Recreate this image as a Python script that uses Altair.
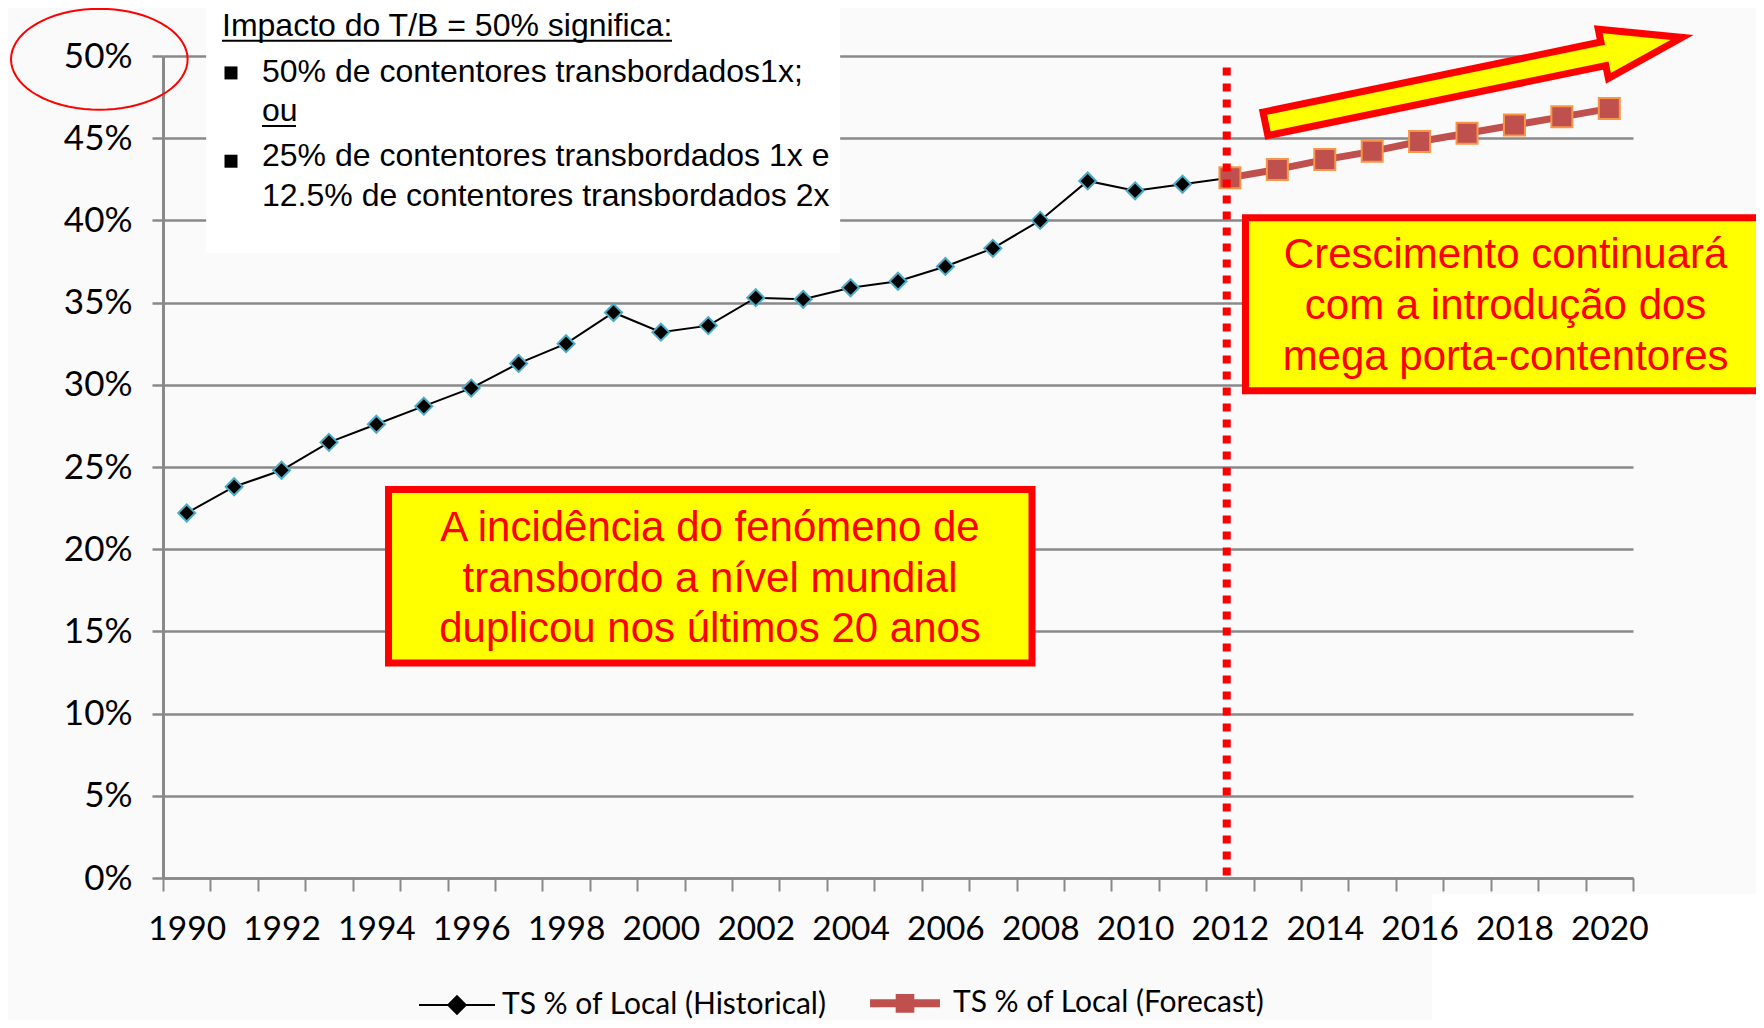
import altair as alt
import numpy as np
import pandas as pd

# ---------------- data ----------------
hist_years = list(range(1990, 2013))
hist_pct = [22.2, 23.8, 24.8, 26.5, 27.6, 28.7, 29.8, 31.3, 32.5, 34.4,
            33.2, 33.6, 35.3, 35.2, 35.9, 36.3, 37.2, 38.3, 40.0, 42.4,
            41.8, 42.2, 42.6]
fc_years = list(range(2012, 2021))
fc_pct = [42.6, 43.1, 43.7, 44.2, 44.8, 45.3, 45.8, 46.3, 46.8]
series_names = ["TS % of Local (Historical)", "TS % of Local (Forecast)"]
y_ticks = [0, 5, 10, 15, 20, 25, 30, 35, 40, 45, 50]
box_lines = ["Impacto do T/B = 50% significa:",
             "50% de contentores transbordados1x;",
             "ou",
             "25% de contentores transbordados 1x e",
             "12.5% de contentores transbordados 2x"]
note1_lines = ["A incidência do fenómeno de", "transbordo a nível mundial",
               "duplicou nos últimos 20 anos"]
note2_lines = ["Crescimento continuará", "com a introdução dos",
               "mega porta-contentores"]

# ---------------- styling ----------------
W, H = 1470, 822
BAND = W / 31.0
GRID = "#898989"
RED = "#FF0000"
YEL = "#FFFF00"
FC_COL = "#C0504D"
AX_FONT = "Lato"
TX_FONT = "Liberation Sans"

X_SCALE = alt.Scale(domain=[1989.5, 2020.5], nice=False, zero=False)
Y_SCALE = alt.Scale(domain=[0, 50], nice=False, zero=False)

X_AXIS = alt.Axis(
    values=[1989.5 + i for i in range(32)],
    labelExpr="(datum.value + 0.5) % 2 == 0 ? format(datum.value + 0.5, 'd') : ''",
    labelOffset=BAND / 2, labelFont=AX_FONT, labelFontSize=33.5, labelColor="#000000",
    labelPadding=22, labelAngle=0, tickSize=13, tickWidth=2, tickColor=GRID,
    domainColor=GRID, domainWidth=2.5, grid=False, title=None,
    labelOverlap=False, labelBound=False, labelFlush=False, zindex=1)
Y_AXIS = alt.Axis(
    values=y_ticks, labelExpr="datum.value + '%'", labelFont=AX_FONT,
    labelFontSize=35, labelColor="#000000", labelPadding=20, tickSize=11,
    tickWidth=2.5, tickColor=GRID, domainColor=GRID, domainWidth=3,
    grid=True, gridColor=GRID, gridWidth=2.5, title=None,
    labelOverlap=False, labelFlush=False, zindex=0)


def xq(f):
    return alt.X(f, type="quantitative", scale=X_SCALE, axis=X_AXIS)


def yq(f):
    return alt.Y(f, type="quantitative", scale=Y_SCALE, axis=Y_AXIS)


DIAMOND = "M 0 -1 L 1 0 L 0 1 L -1 0 Z"
ARROW = ("M -1 -0.0565 L 0.622 -0.0565 L 0.622 -0.118 L 1 0 "
         "L 0.622 0.118 L 0.622 0.0565 L -1 0.0565 Z")
_t = np.linspace(0, 2 * np.pi, 73)[:-1]
ELLIPSE = "M " + " L ".join(f"{np.cos(a):.4f} {0.572 * np.sin(a):.4f}" for a in _t) + " Z"
LEG_HIST = "M -1 0 L 1 0 M -0.23 0 L 0 -0.23 L 0.23 0 L 0 0.23 Z"
LEG_FC = "M -0.92 0 L 0.92 0 M -0.14 -0.14 L 0.14 -0.14 L 0.14 0.14 L -0.14 0.14 Z"

# ---------------- tables ----------------
hist_df = pd.DataFrame({"year": hist_years, "pct": hist_pct})
fc_df = pd.DataFrame({"year": fc_years, "pct": fc_pct})

white_df = pd.DataFrame({"x1": [1990.41, 2016.26], "x2": [2003.78, 2040.0],
                         "y1": [53.41, -0.97], "y2": [38.02, -10.0]})
yellow_df = pd.DataFrame({"x1": [1994.256, 2012.328], "x2": [2007.826, 2023.29],
                          "y1": [23.63, 40.16], "y2": [13.08, 29.64]})
note_df = pd.DataFrame({
    "x": [2001.036] * 3 + [2017.813] * 3,
    "y": [20.50, 17.40, 14.36, 37.09, 34.00, 30.90],
    "t": note1_lines + note2_lines})
box_df = pd.DataFrame({
    "x": [1990.744, 1991.588, 1991.588, 1991.588, 1991.588],
    "y": [51.22, 48.42, 46.06, 43.30, 40.87],
    "t": box_lines})
under_df = pd.DataFrame({"x1": [1990.744, 1991.588], "x2": [2000.234, 1992.305],
                         "y": [50.93, 45.74]})
bullet_df = pd.DataFrame({"x": [1990.934, 1990.934], "y": [48.97, 43.60]})
vline_df = pd.DataFrame({"x": [2011.932], "y1": [49.3], "y2": [0.0]})
arrow_df = pd.DataFrame({"x": [2017.142], "y": [48.50]})
ellipse_df = pd.DataFrame({"x": [1988.157], "y": [49.80]})
leg_df = pd.DataFrame({"series": series_names})

# ---------------- layers ----------------
white = alt.Chart(white_df).mark_rect(fill="#FFFFFF", strokeWidth=0).encode(
    x=xq("x1"), x2="x2", y=yq("y1"), y2="y2")

yellow = alt.Chart(yellow_df).mark_rect(fill=YEL, stroke=RED, strokeWidth=7).encode(
    x=xq("x1"), x2="x2", y=yq("y1"), y2="y2")

notes = alt.Chart(note_df).mark_text(
    font=TX_FONT, fontSize=42, color=RED, align="center", baseline="alphabetic").encode(
    x=xq("x"), y=yq("y"), text="t:N")

box_text = alt.Chart(box_df).mark_text(
    font=TX_FONT, fontSize=32, color="#000000", align="left", baseline="alphabetic").encode(
    x=xq("x"), y=yq("y"), text="t:N")

underline = alt.Chart(under_df).mark_rule(color="#000000", strokeWidth=2).encode(
    x=xq("x1"), x2="x2", y=yq("y"))

bullets = alt.Chart(bullet_df).mark_square(size=169, color="#000000", opacity=1).encode(
    x=xq("x"), y=yq("y"))

hist_line = alt.Chart(hist_df).mark_line(color="#000000", strokeWidth=2).encode(
    x=xq("year"), y=yq("pct"))
fc_line = alt.Chart(fc_df).mark_line(color=FC_COL, strokeWidth=7).encode(
    x=xq("year"), y=yq("pct"))
hist_pts = alt.Chart(hist_df).mark_point(
    shape=DIAMOND, size=289, filled=True, fill="#000000", stroke="#4BACC6",
    strokeWidth=2, opacity=1).encode(x=xq("year"), y=yq("pct"))
fc_pts = alt.Chart(fc_df).mark_point(
    shape="square", size=441, filled=True, fill=FC_COL, stroke="#F79646",
    strokeWidth=2, opacity=1).encode(x=xq("year"), y=yq("pct"))

vline = alt.Chart(vline_df).mark_rule(
    color=RED, strokeWidth=8, strokeDash=[8, 8], strokeCap="butt").encode(
    x=xq("x"), y=yq("y1"), y2="y2")

arrow = alt.Chart(arrow_df).mark_point(
    shape=ARROW, size=425.5 ** 2, angle=348.29, filled=True, fill=YEL,
    stroke=RED, strokeWidth=7, opacity=1).encode(x=xq("x"), y=yq("y"))

ellipse = alt.Chart(ellipse_df).mark_point(
    shape=ELLIPSE, size=176.6 ** 2, filled=False, stroke=RED, strokeWidth=2,
    opacity=1).encode(x=xq("x"), y=yq("y"))

LEG = alt.Legend(title=None, orient="none", legendX=255, legendY=905,
                 direction="horizontal", symbolSize=5776, labelFont=AX_FONT,
                 labelFontSize=30, labelColor="#000000", labelOffset=6,
                 columnPadding=27, padding=0, labelLimit=1000, symbolOpacity=1)
legend_layer = alt.Chart(leg_df).transform_filter("false").mark_point(
    filled=True, opacity=1).encode(
    stroke=alt.Stroke("series:N", scale=alt.Scale(domain=series_names, range=["#000000", FC_COL]), legend=LEG),
    fill=alt.Fill("series:N", scale=alt.Scale(domain=series_names, range=["#000000", FC_COL]), legend=LEG),
    shape=alt.Shape("series:N", scale=alt.Scale(domain=series_names, range=[LEG_HIST, LEG_FC]), legend=LEG),
    strokeWidth=alt.StrokeWidth("series:N", scale=alt.Scale(domain=series_names, range=[2, 8]), legend=LEG),
)

chart = alt.layer(
    white, yellow, notes, box_text, underline, bullets,
    hist_line, fc_line, hist_pts, fc_pts, vline, arrow, ellipse, legend_layer
).properties(
    width=W, height=H,
    padding={"left": 155, "top": 48, "right": 123, "bottom": 142},
    autosize=alt.AutoSizeParams(type="none"),
).configure(background="#FAFAFA").configure_view(stroke=None)

chart.save("out.html", embed_options={"renderer": "svg", "actions": False})
